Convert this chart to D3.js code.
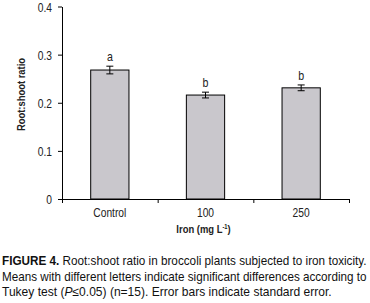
<!DOCTYPE html>
<html>
<head>
<meta charset="utf-8">
<script src="https://cdn.jsdelivr.net/npm/d3@7"></script>
<style>
  body { margin: 0; background: #fff; }
  svg text { font-family: "Liberation Sans", Arial, sans-serif; }
</style>
</head>
<body>
<div id="chart"></div>
<script>
// Data
const categories = ["Control", "100", "250"];
const means = [0.268, 0.216, 0.231];
const stdErrors = [0.008, 0.006, 0.006];
const letters = ["a", "b", "b"];
const yTicks = [0, 0.1, 0.2, 0.3, 0.4];
const yTickLabels = ["0", "0.1", "0.2", "0.3", "0.4"];

const W = 370, H = 303;
const margin = {top: 6.5, left: 62, right: 21, bottom: 104};
const width = W - margin.left - margin.right;
const height = H - margin.top - margin.bottom;
const narrow = 0.82; // reference uses a condensed face

const svg = d3.select("#chart").append("svg")
  .attr("width", W).attr("height", H);

const g = svg.append("g")
  .attr("transform", `translate(${margin.left},${margin.top})`);

const x = d3.scaleBand().domain(categories).range([0, width]).paddingInner(0.6).paddingOuter(0.3);
const y = d3.scaleLinear().domain([0, 0.4]).range([height, 0]);

// Bars
g.selectAll("rect.bar").data(categories).join("rect")
  .attr("class", "bar")
  .attr("x", d => x(d))
  .attr("y", (d, i) => y(means[i]))
  .attr("width", x.bandwidth())
  .attr("height", (d, i) => y(0) - y(means[i]))
  .attr("fill", "#c9c7cc")
  .attr("stroke", "#000")
  .attr("stroke-width", 1);

// Error bars
const eb = g.selectAll("g.err").data(categories).join("g").attr("class", "err");
eb.append("line")
  .attr("x1", d => x(d) + x.bandwidth() / 2)
  .attr("x2", d => x(d) + x.bandwidth() / 2)
  .attr("y1", (d, i) => y(means[i] + stdErrors[i]))
  .attr("y2", (d, i) => y(means[i] - stdErrors[i]))
  .attr("stroke", "#000");
[1, -1].forEach(s => {
  eb.append("line")
    .attr("x1", d => x(d) + x.bandwidth() / 2 - 3.5)
    .attr("x2", d => x(d) + x.bandwidth() / 2 + 3.5)
    .attr("y1", (d, i) => y(means[i] + s * stdErrors[i]))
    .attr("y2", (d, i) => y(means[i] + s * stdErrors[i]))
    .attr("stroke", "#000");
});

// Letters
g.selectAll("text.letter").data(categories).join("text")
  .attr("class", "letter")
  .attr("transform", (d, i) => `translate(${x(d) + x.bandwidth() / 2},${y(means[i] + stdErrors[i]) - 5}) scale(${narrow},1)`)
  .attr("text-anchor", "middle")
  .style("font-size", "13px")
  .attr("fill", "#222")
  .text((d, i) => letters[i]);

// Y axis
const yAxis = g.append("g")
  .call(d3.axisLeft(y).tickValues(yTicks).tickSize(4).tickSizeOuter(0)
    .tickFormat((d, i) => yTickLabels[i]));
yAxis.selectAll("text")
  .style("font-size", "12.5px").attr("fill", "#222")
  .attr("x", -10 / narrow).attr("dy", "0.36em")
  .attr("transform", `scale(${narrow},1)`);

// X axis: boundary ticks
const xb = d3.scaleLinear().domain([0, categories.length]).range([0, width]);
g.append("g")
  .attr("transform", `translate(0,${height})`)
  .call(d3.axisBottom(xb).ticks(categories.length).tickSize(4).tickSizeOuter(0).tickFormat(""));
// category labels
const xa = g.append("g")
  .attr("transform", `translate(0,${height})`)
  .call(d3.axisBottom(x).tickSize(0));
xa.select(".domain").remove();
xa.selectAll("text")
  .style("font-size", "12.5px").attr("fill", "#222").attr("y", 9)
  .attr("transform", `scale(${narrow},1)`);

// Axis titles
g.append("text")
  .attr("transform", `translate(${width / 2 - 2},${height + 33.5}) scale(${narrow},1)`)
  .attr("text-anchor", "middle")
  .style("font-size", "11.5px")
  .style("font-weight", "bold")
  .attr("fill", "#222")
  .html("Iron (mg L<tspan dy='-4' font-size='7px'>-1</tspan><tspan dy='4'>)</tspan>");

g.append("text")
  .attr("transform", `translate(${-37},${88}) rotate(-90) scale(${narrow},1)`)
  .attr("text-anchor", "middle")
  .style("font-size", "11.5px")
  .style("font-weight", "bold")
  .attr("fill", "#222")
  .text("Root:shoot ratio");

// Caption, each line squeezed horizontally to the reference width
const lineY = [265, 280.5, 296];
const lineLen = [365, 365, 330];
const capLines = [];
let t = svg.append("text");
t.append("tspan").style("font-weight", "bold").text("FIGURE 4.");
t.append("tspan").text(" Root:shoot ratio in broccoli plants subjected to iron toxicity.");
capLines.push(t);
t = svg.append("text");
t.append("tspan").text("Means with different letters indicate significant differences according to");
capLines.push(t);
t = svg.append("text");
t.append("tspan").text("Tukey test (");
t.append("tspan").style("font-style", "italic").text("P");
t.append("tspan").text("\u22640.05) (n=15). Error bars indicate standard error.");
capLines.push(t);

capLines.forEach((ln, i) => {
  ln.style("font-size", "12.5px").attr("fill", "#111");
  const w = ln.node().getComputedTextLength();
  ln.attr("transform", `translate(2,${lineY[i]}) scale(${lineLen[i] / w},1)`);
});
</script>
</body>
</html>
